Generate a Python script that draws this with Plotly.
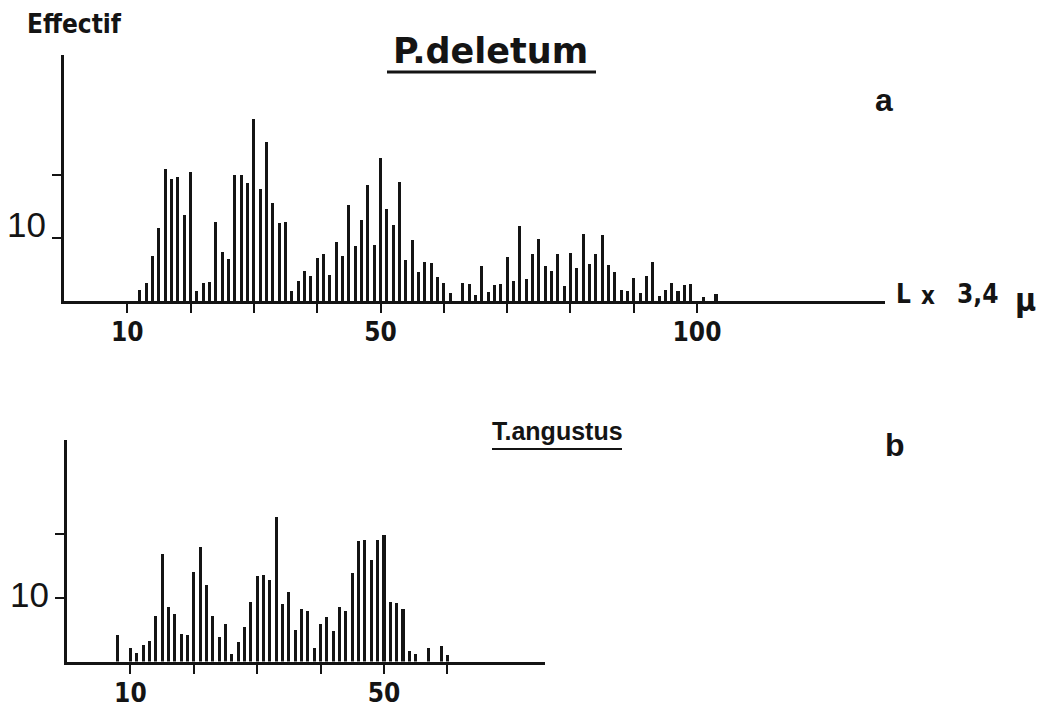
import plotly.graph_objects as go

# ---- data: P. deletum (top, a) ----
a_len = list(range(12, 104))
a_count = [1.8, 2.8, 7.1, 11.5, 20.9, 19.4, 19.6, 13.6, 20.5, 1.6,
           2.9, 3.0, 12.6, 7.8, 6.7, 19.9, 20.0, 18.7, 28.8, 17.7,
           25.2, 15.5, 12.3, 12.6, 1.6, 3.1, 4.7, 4.0, 6.8, 7.4,
           4.1, 9.3, 7.2, 15.2, 8.7, 12.8, 18.4, 8.8, 22.6, 14.6,
           12.0, 18.9, 6.5, 9.7, 4.6, 6.2, 6.0, 3.8, 2.8, 1.2,
           0.0, 2.8, 2.7, 0.9, 5.6, 1.5, 2.5, 2.7, 6.9, 3.2,
           11.9, 3.5, 7.5, 9.8, 5.5, 4.7, 7.5, 2.3, 7.6, 5.3,
           10.7, 5.8, 7.5, 10.5, 5.7, 4.6, 1.7, 1.6, 3.6, 1.3,
           3.9, 6.2, 0.8, 1.7, 2.8, 1.6, 2.5, 2.7, 0.0, 0.6,
           0.0, 1.1]

# ---- data: T. angustus (bottom, b) ----
b_len = list(range(8, 61))
b_count = [4.1, 0.0, 2.2, 1.3, 2.6, 3.2, 7.2, 16.9, 8.5, 7.5,
           4.3, 4.2, 14.1, 18.0, 12.0, 7.1, 3.9, 5.9, 1.2, 3.0,
           5.4, 9.4, 13.4, 13.6, 12.8, 22.7, 9.0, 10.9, 4.9, 8.3,
           7.9, 2.1, 5.9, 7.0, 4.8, 8.6, 7.9, 13.9, 18.9, 19.1,
           15.9, 19.1, 19.9, 9.4, 9.2, 8.3, 1.7, 1.2, 0.0, 2.1,
           0.0, 2.5, 1.0]

a_xticks = [10, 20, 30, 40, 50, 60, 70, 80, 90, 100]
a_xlabels = ["10", "", "", "", "50", "", "", "", "", "100"]
b_xticks = [10, 20, 30, 40, 50, 60]
b_xlabels = ["10", "", "", "", "50", ""]
y_ticks = [10, 20]
y_labels = ["10", ""]

# the page body has an 8px margin: size the figure to the visible area
OFF = 8
W, H = 1040, 710
INK = "#141414"
NARROW = "DejaVu Sans Condensed, Liberation Sans Narrow, sans-serif"
SANS = "Liberation Sans, Arial, Helvetica, sans-serif"
DEJA = "DejaVu Sans, sans-serif"

def px(x):
    return (x - OFF) / W

def py(y):
    return 1 - (y - OFF) / H

fig = go.Figure()
fig.add_trace(go.Bar(x=a_len, y=a_count, width=0.48, marker=dict(color=INK, line=dict(width=0)),
                     xaxis="x", yaxis="y", showlegend=False))
fig.add_trace(go.Bar(x=b_len, y=b_count, width=0.48, marker=dict(color=INK, line=dict(width=0)),
                     xaxis="x2", yaxis="y2", showlegend=False))

axis_common = dict(showline=True, linewidth=3, linecolor=INK, ticks="outside", ticklen=9,
                   tickwidth=2, tickcolor=INK, showgrid=False, zeroline=False, fixedrange=True)

xfont = dict(family=NARROW, size=26, color=INK, weight="bold")
yfont = dict(family=SANS, size=35, color=INK)

fig.update_layout(
    width=W, height=H,
    margin=dict(l=0, r=0, t=0, b=0),
    paper_bgcolor="white", plot_bgcolor="white",
    bargap=0,
    xaxis=dict(domain=[px(64), px(885)], range=[0, 129.7], tickmode="array",
               tickvals=a_xticks, ticktext=a_xlabels, tickfont=xfont, anchor="y",
               ticklabelstandoff=-3, **axis_common),
    yaxis=dict(domain=[py(301), py(55)], range=[0, 39], tickmode="array",
               tickvals=y_ticks, ticktext=y_labels, tickfont=yfont, anchor="x",
               ticklabelshift=-13, ticklabelstandoff=-1, **axis_common),
    xaxis2=dict(domain=[px(67), px(545)], range=[0, 75.4], tickmode="array",
                tickvals=b_xticks, ticktext=b_xlabels, tickfont=xfont, anchor="y2",
                ticklabelstandoff=-3, **axis_common),
    yaxis2=dict(domain=[py(661.5), py(440)], range=[0, 34.8], tickmode="array",
                tickvals=y_ticks, ticktext=y_labels, tickfont=yfont, anchor="x2",
                ticklabelshift=-3, ticklabelstandoff=-1, **axis_common),
)

def label(text, x, y, size, family, bold=True, xanchor="center"):
    fig.add_annotation(text=text, x=px(x), y=py(y), xref="paper", yref="paper",
                       xanchor=xanchor, yanchor="middle", showarrow=False,
                       font=dict(family=family, size=size, color=INK,
                                 weight="bold" if bold else "normal"))

label("Effectif", 74, 24, 26, NARROW)
label("P.deletum", 490, 51, 35, DEJA)
label("T.angustus", 557, 431, 25, SANS)
label("a", 884, 100, 32, SANS)
label("b", 895, 445, 32, SANS)
label("L", 903, 294, 26, NARROW)
label("x", 928, 296, 24, NARROW)
label("3,4", 977, 294, 26, NARROW)
label("μ", 1025, 300, 32, NARROW)

# title underlines
fig.add_shape(type="line", xref="paper", yref="paper", x0=px(387), x1=px(596), y0=py(72), y1=py(72),
              line=dict(color=INK, width=3))
fig.add_shape(type="line", xref="paper", yref="paper", x0=px(492), x1=px(622), y0=py(449), y1=py(449),
              line=dict(color=INK, width=2))

fig.write_html("out.html")
